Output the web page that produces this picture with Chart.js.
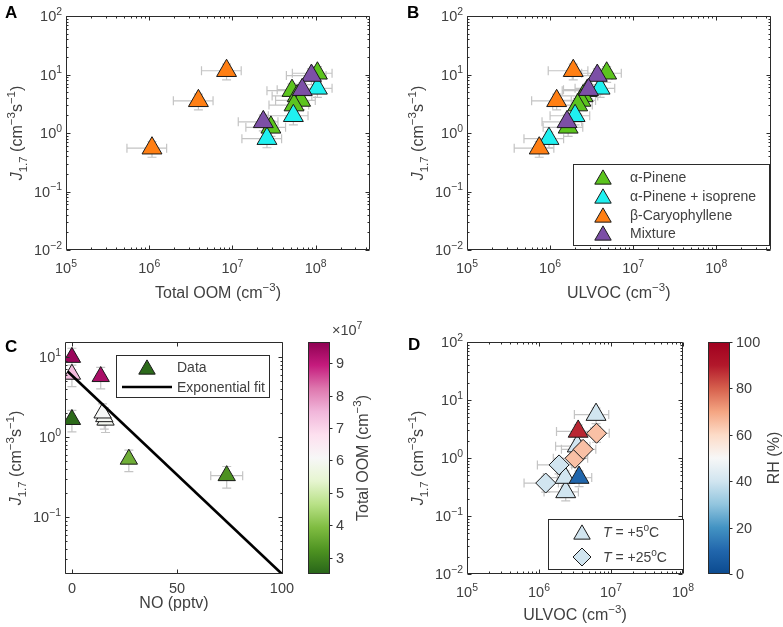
<!DOCTYPE html>
<html>
<head>
<meta charset="utf-8">
<title>J1.7 against total OOM, ULVOC and NO</title>
<script src="https://cdn.jsdelivr.net/npm/chart.js"></script>
<style>
  html, body { margin: 0; padding: 0; background: #fff; }
  #wrap { position: relative; width: 783px; height: 627px; background: #fff; overflow: hidden; }
  #wrap canvas { position: absolute; left: 0; top: 0; }
</style>
</head>
<body>
<div id="wrap">
  <canvas id="panelA" width="783" height="627"></canvas>
  <canvas id="panelB" width="783" height="627"></canvas>
  <canvas id="panelC" width="783" height="627"></canvas>
  <canvas id="barC" width="783" height="627"></canvas>
  <canvas id="panelD" width="783" height="627"></canvas>
  <canvas id="barD" width="783" height="627"></canvas>
</div>
<script>
"use strict";

const W = 783, H = 627;

// Panels A and B: J1.7 for each precursor system, vs total OOM (A) and ULVOC (B)
const pineneJ      = [10.5, 5.3, 4.3, 3.6, 3.0, 1.25];
const pineneOOM    = [1.05e8, 5.2e7, 6.0e7, 6.6e7, 5.5e7, 2.9e7];
const pineneULVOC  = [4.8e6, 2.8e6, 2.5e6, 2.35e6, 2.15e6, 1.65e6];
const isopreneJ     = [5.8, 1.97, 0.8];
const isopreneOOM   = [1.05e8, 5.4e7, 2.6e7];
const isopreneULVOC = [4.0e6, 2.0e6, 9.7e5];
const caryJ     = [11.6, 3.55, 0.55];
const caryOOM   = [8.5e6, 3.9e6, 1.08e6];
const caryULVOC = [1.9e6, 1.2e6, 7.4e5];
const mixJ     = [9.6, 5.5, 1.55];
const mixOOM   = [8.9e7, 6.9e7, 2.35e7];
const mixULVOC = [3.7e6, 2.9e6, 1.6e6];
const concErrFrac = 0.5;   // relative uncertainty of OOM / ULVOC
const jErrFrac = 0.3;      // relative uncertainty of J1.7

// Panel C: J1.7 vs NO, coloured by total OOM (x 1e7 cm-3)
const noPptv = [0, 0, 0, 13.7, 16.0, 15.4, 14.6, 27.1, 73.7];
const noJ    = [1.66, 6.1, 9.9, 5.7, 1.63, 1.8, 2.0, 0.53, 0.33];
const noOOM  = [2.6, 7.4, 9.5, 9.3, 5.95, 6.0, 6.05, 3.7, 3.2];
const noErr  = [0.5, 0.5, 0.5, 0.8, 1.5, 1.5, 1.5, 1.2, 7.6];
const fitNO = [-2, 100];
const fitJ  = [6.6, 0.0195];

// Panel D: J1.7 vs ULVOC at two temperatures, coloured by RH (%)
const coldULVOC = [2.35e6, 2.3e6, 3.6e6, 3.4e6, 3.5e6, 6.2e6];
const coldJ     = [0.26, 0.46, 0.46, 1.6, 2.87, 5.6];
const coldRH    = [40, 40, 10, 40, 88, 40];
const warmULVOC = [1.24e6, 1.9e6, 3.16e6, 4.1e6, 6.3e6];
const warmJ     = [0.37, 0.76, 0.99, 1.41, 2.67];
const warmRH    = [40, 40, 65, 65, 65];

// ticks
const concTicks = [1e5, 1e6, 1e7, 1e8];
const concTickExp = ['5', '6', '7', '8'];
const jTicks = [1e-2, 1e-1, 1, 10, 100];
const jTickExp = ['−2', '−1', '0', '1', '2'];
const jTicksC = [0.1, 1, 10];
const jTickExpC = ['−1', '0', '1'];
const noTicks = [0, 50, 100];
const oomTicks = [3, 4, 5, 6, 7, 8, 9];
const rhTicks = [0, 20, 40, 60, 80, 100];

// styles
const FONT = '"Liberation Sans", Arial, Helvetica, sans-serif';
const AXIS = '#2b2b2b';
const TEXT = '#404040';
const EDGE = '#1a1a1a';
const ERR = '#c4c4c4';
const TICK_SIZE = 14.5;
const TITLE_SIZE = 16;
const colPinene = '#5cc41e';
const colIsoprene = '#1ff0f0';
const colCary = '#ff7f14';
const colMix = '#7c4fa6';
const piyg = ['#276419', '#4d9221', '#7fbc41', '#b8e186', '#e6f5d0', '#f7f7f7',
              '#fde0ef', '#f1b6da', '#de77ae', '#c51b7d', '#8e0152'];
const rdbu = ['#0b4a8f', '#2166ac', '#4393c3', '#92c5de', '#d1e5f0', '#f7f7f7',
              '#fddbc7', '#f4a582', '#d6604d', '#b2182b', '#a0001f'];
const oomMin = 2.5, oomMax = 9.65;
const rhMin = 0, rhMax = 100;

function hexToRgb(h) {
  const n = parseInt(h.slice(1), 16);
  return [n >> 16, (n >> 8) & 255, n & 255];
}

function colorAt(stops, t) {
  t = Math.min(1, Math.max(0, t));
  const f = t * (stops.length - 1);
  const i = Math.min(stops.length - 2, Math.floor(f));
  const u = f - i;
  const a = hexToRgb(stops[i]), b = hexToRgb(stops[i + 1]);
  return 'rgb(' + a.map((c, k) => Math.round(c + (b[k] - c) * u)).join(',') + ')';
}

const oomColor = v => colorAt(piyg, (v - oomMin) / (oomMax - oomMin));
const rhColor = v => colorAt(rdbu, (v - rhMin) / (rhMax - rhMin));

// text with italic / superscript / subscript pieces
function drawRich(ctx, parts, x, y, size, align, angle, weight) {
  ctx.save();
  ctx.translate(x, y);
  if (angle) ctx.rotate(angle);
  const segs = parts.map(([t, s]) => {
    const small = s === 'sup' || s === 'sub';
    const font = [s === 'i' ? 'italic' : '', weight || '', (small ? size * 0.72 : size) + 'px', FONT]
      .filter(Boolean).join(' ');
    ctx.font = font;
    return { t, s, font, w: ctx.measureText(t).width };
  });
  const total = segs.reduce((sum, g) => sum + g.w, 0);
  let cx = align === 'center' ? -total / 2 : align === 'right' ? -total : 0;
  ctx.textAlign = 'left';
  ctx.textBaseline = 'alphabetic';
  segs.forEach(g => {
    ctx.font = g.font;
    const dy = g.s === 'sup' ? -size * 0.42 : g.s === 'sub' ? size * 0.3 : 0;
    ctx.fillText(g.t, cx, dy);
    cx += g.w;
  });
  ctx.restore();
}

const pow10 = e => [['10', ''], [e, 'sup']];
const plain = v => [[String(v), '']];

const jTitle = [['J', 'i'], ['1.7', 'sub'], [' (cm', ''], ['−3', 'sup'], ['s', ''], ['−1', 'sup'], [')', '']];
const oomTitle = [['Total OOM (cm', ''], ['−3', 'sup'], [')', '']];
const ulvocTitle = [['ULVOC (cm', ''], ['−3', 'sup'], [')', '']];

function drawMarker(ctx, style, x, y, r, fill) {
  ctx.beginPath();
  if (style === 'triangle') {
    ctx.moveTo(x, y - r);
    ctx.lineTo(x + r * 0.866, y + r * 0.5);
    ctx.lineTo(x - r * 0.866, y + r * 0.5);
  } else {
    ctx.moveTo(x, y - r);
    ctx.lineTo(x + r, y);
    ctx.lineTo(x, y + r);
    ctx.lineTo(x - r, y);
  }
  ctx.closePath();
  ctx.fillStyle = fill;
  ctx.fill();
  ctx.strokeStyle = EDGE;
  ctx.lineWidth = 1;
  ctx.stroke();
}

function logMinor(scale) {
  const out = [];
  const d0 = Math.floor(Math.log10(scale.min)), d1 = Math.ceil(Math.log10(scale.max));
  for (let d = d0; d <= d1; d++) {
    for (let m = 2; m <= 9; m++) {
      const v = m * Math.pow(10, d);
      if (v > scale.min && v < scale.max) out.push(v);
    }
  }
  return out;
}

function drawErrorBars(chart) {
  const { ctx } = chart;
  const xs = chart.scales.x, ys = chart.scales.y;
  const cap = 4.5;
  ctx.save();
  ctx.strokeStyle = ERR;
  ctx.lineWidth = 1.2;
  chart.data.datasets.forEach(ds => {
    if (!ds.xe && !ds.ye) return;
    ds.data.forEach((p, i) => {
      const px = xs.getPixelForValue(p.x), py = ys.getPixelForValue(p.y);
      ctx.beginPath();
      if (ds.xe) {
        const x1 = xs.getPixelForValue(p.x - ds.xe[i]), x2 = xs.getPixelForValue(p.x + ds.xe[i]);
        ctx.moveTo(x1, py); ctx.lineTo(x2, py);
        ctx.moveTo(x1, py - cap); ctx.lineTo(x1, py + cap);
        ctx.moveTo(x2, py - cap); ctx.lineTo(x2, py + cap);
      }
      if (ds.ye) {
        const y1 = ys.getPixelForValue(p.y - ds.ye[i]), y2 = ys.getPixelForValue(p.y + ds.ye[i]);
        ctx.moveTo(px, y1); ctx.lineTo(px, y2);
        ctx.moveTo(px - cap, y1); ctx.lineTo(px + cap, y1);
        ctx.moveTo(px - cap, y2); ctx.lineTo(px + cap, y2);
      }
      ctx.stroke();
    });
  });
  ctx.restore();
}

function drawLegend(ctx, lg) {
  const [l, t, r, b] = lg.box;
  ctx.save();
  ctx.fillStyle = '#fff';
  ctx.fillRect(l, t, r - l, b - t);
  ctx.strokeStyle = AXIS;
  ctx.lineWidth = 1;
  ctx.strokeRect(l + 0.5, t + 0.5, r - l, b - t);
  lg.rows.forEach(row => {
    if (row.line) {
      ctx.strokeStyle = '#000';
      ctx.lineWidth = 2.6;
      ctx.beginPath();
      ctx.moveTo(row.line[0], row.y);
      ctx.lineTo(row.line[1], row.y);
      ctx.stroke();
    } else {
      const cy = row.style === 'triangle' ? row.y + row.r / 4 : row.y;
      drawMarker(ctx, row.style, row.mx, cy, row.r, row.color);
    }
    ctx.fillStyle = TEXT;
    drawRich(ctx, row.text, lg.textX, row.y + 5, 14, 'left');
  });
  ctx.restore();
}

function drawFrame(chart, f) {
  const { ctx, chartArea: a } = chart;
  const xs = chart.scales.x, ys = chart.scales.y;
  const L = Math.round(a.left) + 0.5, R = Math.round(a.right) - 0.5;
  const T = Math.round(a.top) + 0.5, B = Math.round(a.bottom) - 0.5;
  ctx.save();
  ctx.strokeStyle = AXIS;
  ctx.lineWidth = 1;
  ctx.beginPath();
  const vtick = (v, len) => {
    const p = Math.round(xs.getPixelForValue(v)) + 0.5;
    ctx.moveTo(p, B); ctx.lineTo(p, B - len);
    ctx.moveTo(p, T); ctx.lineTo(p, T + len);
  };
  const htick = (v, len) => {
    const p = Math.round(ys.getPixelForValue(v)) + 0.5;
    ctx.moveTo(L, p); ctx.lineTo(L + len, p);
    ctx.moveTo(R, p); ctx.lineTo(R - len, p);
  };
  f.xTicks.forEach(v => vtick(v, 4));
  f.yTicks.forEach(v => htick(v, 4));
  if (xs.type === 'logarithmic') logMinor(xs).forEach(v => vtick(v, 2));
  if (ys.type === 'logarithmic') logMinor(ys).forEach(v => htick(v, 2));
  ctx.rect(L, T, R - L, B - T);
  ctx.stroke();

  ctx.fillStyle = TEXT;
  f.xTicks.forEach((v, i) => drawRich(ctx, f.xLabels[i], xs.getPixelForValue(v), a.bottom + f.xLabelDy, TICK_SIZE, 'center'));
  f.yTicks.forEach((v, i) => drawRich(ctx, f.yLabels[i], a.left - 4, ys.getPixelForValue(v) + 5, TICK_SIZE, 'right'));
  drawRich(ctx, f.xTitle, (a.left + a.right) / 2, a.bottom + f.xTitleDy, TITLE_SIZE, 'center');
  drawRich(ctx, f.yTitle, a.left - 44, (a.top + a.bottom) / 2, TITLE_SIZE, 'center', -Math.PI / 2);
  ctx.fillStyle = '#000';
  drawRich(ctx, [[f.letter, '']], f.letterAt[0], f.letterAt[1], 17, 'left', 0, 'bold');
  if (f.legend) drawLegend(ctx, f.legend);
  ctx.restore();
}

function drawColorbarFrame(chart, f) {
  const { ctx, chartArea: a } = chart;
  const ys = chart.scales.y;
  const L = Math.round(a.left) + 0.5, R = Math.round(a.right) - 0.5;
  const T = Math.round(a.top) + 0.5, B = Math.round(a.bottom) - 0.5;
  ctx.save();
  ctx.strokeStyle = AXIS;
  ctx.lineWidth = 1;
  ctx.beginPath();
  f.ticks.forEach(v => {
    const p = Math.round(ys.getPixelForValue(v)) + 0.5;
    ctx.moveTo(R, p); ctx.lineTo(R + 3, p);
  });
  ctx.rect(L, T, R - L, B - T);
  ctx.stroke();
  ctx.fillStyle = TEXT;
  f.ticks.forEach(v => drawRich(ctx, plain(v), a.right + 6, ys.getPixelForValue(v) + 5, TICK_SIZE, 'left'));
  drawRich(ctx, f.title, f.titleX, (a.top + a.bottom) / 2, TITLE_SIZE, 'center', -Math.PI / 2);
  if (f.multiplier) drawRich(ctx, f.multiplier, f.multAt[0], f.multAt[1], TICK_SIZE, 'left');
  ctx.restore();
}

const frames = {};

const framePlugin = {
  id: 'frame',
  beforeDatasetsDraw(chart) { drawErrorBars(chart); },
  afterDatasetsDraw(chart) {
    const f = frames[chart.canvas.id];
    if (f) drawFrame(chart, f);
  }
};

const colorbarPlugin = {
  id: 'colorbarFrame',
  afterDatasetsDraw(chart) {
    const f = frames[chart.canvas.id];
    if (f) drawColorbarFrame(chart, f);
  }
};

function pad(l, t, r, b) {
  return { left: l, top: t, right: W - r, bottom: H - b };
}

function pts(xs, ys) {
  return xs.map((x, i) => ({ x, y: ys[i] }));
}

function markers(label, xs, ys, color, style, r, order, xe, ye) {
  return {
    label, order, xe, ye,
    data: pts(xs, ys),
    pointStyle: style,
    pointRadius: r,
    pointHoverRadius: r,
    pointBackgroundColor: color,
    pointBorderColor: EDGE,
    pointBorderWidth: 1
  };
}

function scatterChart(id, padding, xScale, yScale, datasets) {
  return new Chart(document.getElementById(id), {
    type: 'scatter',
    data: { datasets },
    options: {
      responsive: false,
      animation: false,
      events: [],
      layout: { padding },
      scales: {
        x: Object.assign({ display: false }, xScale),
        y: Object.assign({ display: false }, yScale)
      },
      plugins: { legend: { display: false }, tooltip: { enabled: false } }
    },
    plugins: [framePlugin]
  });
}

function colorbarChart(id, padding, min, max, stops) {
  return new Chart(document.getElementById(id), {
    type: 'bar',
    data: {
      labels: [''],
      datasets: [{
        data: [[min, max]],
        borderWidth: 0,
        barPercentage: 1,
        categoryPercentage: 1,
        backgroundColor: c => {
          const area = c.chart.chartArea;
          if (!area) return stops[0];
          const g = c.chart.ctx.createLinearGradient(0, area.bottom, 0, area.top);
          stops.forEach((col, i) => g.addColorStop(i / (stops.length - 1), col));
          return g;
        }
      }]
    },
    options: {
      responsive: false,
      animation: false,
      events: [],
      layout: { padding },
      scales: { x: { display: false }, y: { display: false, min, max } },
      plugins: { legend: { display: false }, tooltip: { enabled: false } }
    },
    plugins: [colorbarPlugin]
  });
}

const concErr = arr => arr.map(v => v * concErrFrac);
const jErr = arr => arr.map(v => v * jErrFrac);
const logConc = { type: 'logarithmic', min: 1e5, max: 4.5e8 };
const logJ = { type: 'logarithmic', min: 1e-2, max: 1e2 };

const legendAB = {
  box: [573, 164, 769, 245], textX: 630,
  rows: [
    { y: 177, style: 'triangle', mx: 603, r: 9.5, color: colPinene, text: [['α-Pinene', '']] },
    { y: 196, style: 'triangle', mx: 603, r: 9.5, color: colIsoprene, text: [['α-Pinene + isoprene', '']] },
    { y: 215, style: 'triangle', mx: 603, r: 9.5, color: colCary, text: [['β-Caryophyllene', '']] },
    { y: 233, style: 'triangle', mx: 603, r: 9.5, color: colMix, text: [['Mixture', '']] }
  ]
};

// Panel A
frames.panelA = {
  letter: 'A', letterAt: [5, 18],
  xTicks: concTicks, xLabels: concTickExp.map(pow10), xLabelDy: 23,
  yTicks: jTicks, yLabels: jTickExp.map(pow10),
  xTitle: oomTitle, xTitleDy: 48, yTitle: jTitle
};
scatterChart('panelA', pad(66, 16, 370, 250), logConc, logJ, [
  markers('Mixture', mixOOM, mixJ, colMix, 'triangle', 11.5, 0, concErr(mixOOM), jErr(mixJ)),
  markers('β-Caryophyllene', caryOOM, caryJ, colCary, 'triangle', 11.5, 1, concErr(caryOOM), jErr(caryJ)),
  markers('α-Pinene + isoprene', isopreneOOM, isopreneJ, colIsoprene, 'triangle', 11.5, 2, concErr(isopreneOOM), jErr(isopreneJ)),
  markers('α-Pinene', pineneOOM, pineneJ, colPinene, 'triangle', 11.5, 3, concErr(pineneOOM), jErr(pineneJ))
]);

// Panel B
frames.panelB = {
  letter: 'B', letterAt: [407, 18],
  xTicks: concTicks, xLabels: concTickExp.map(pow10), xLabelDy: 23,
  yTicks: jTicks, yLabels: jTickExp.map(pow10),
  xTitle: ulvocTitle, xTitleDy: 48, yTitle: jTitle,
  legend: legendAB
};
scatterChart('panelB', pad(467, 16, 771, 250), logConc, logJ, [
  markers('Mixture', mixULVOC, mixJ, colMix, 'triangle', 11.5, 0, concErr(mixULVOC), jErr(mixJ)),
  markers('β-Caryophyllene', caryULVOC, caryJ, colCary, 'triangle', 11.5, 1, concErr(caryULVOC), jErr(caryJ)),
  markers('α-Pinene + isoprene', isopreneULVOC, isopreneJ, colIsoprene, 'triangle', 11.5, 2, concErr(isopreneULVOC), jErr(isopreneJ)),
  markers('α-Pinene', pineneULVOC, pineneJ, colPinene, 'triangle', 11.5, 3, concErr(pineneULVOC), jErr(pineneJ))
]);

// Panel C
frames.panelC = {
  letter: 'C', letterAt: [5, 352],
  xTicks: noTicks, xLabels: noTicks.map(plain), xLabelDy: 19,
  yTicks: jTicksC, yLabels: jTickExpC.map(pow10),
  xTitle: [['NO (pptv)', '']], xTitleDy: 34, yTitle: jTitle,
  legend: {
    box: [116, 355, 269, 397], textX: 177,
    rows: [
      { y: 367, style: 'triangle', mx: 147, r: 9.5, color: oomColor(noOOM[0]), text: [['Data', '']] },
      { y: 387, line: [122, 172], text: [['Exponential fit', '']] }
    ]
  }
};
scatterChart('panelC', pad(65, 342, 283, 574),
  { type: 'linear', min: -3.3, max: 100.5 },
  { type: 'logarithmic', min: 0.0195, max: 15.4 },
  [
    {
      label: 'Exponential fit', order: 0, data: pts(fitNO, fitJ),
      showLine: true, pointRadius: 0, borderColor: '#000', borderWidth: 2.6, fill: false
    },
    markers('Data', noPptv, noJ, noOOM.map(oomColor), 'triangle', 10, 1, noErr, jErr(noJ))
  ]);

frames.barC = {
  ticks: oomTicks,
  title: [['Total OOM (cm', ''], ['−3', 'sup'], [')', '']], titleX: 368,
  multiplier: [['×10', ''], ['7', 'sup']], multAt: [332, 335]
};
colorbarChart('barC', pad(308, 342, 330, 574), oomMin, oomMax, piyg);

// Panel D
frames.panelD = {
  letter: 'D', letterAt: [408, 350],
  xTicks: concTicks, xLabels: concTickExp.map(pow10), xLabelDy: 23,
  yTicks: jTicks, yLabels: jTickExp.map(pow10),
  xTitle: ulvocTitle, xTitleDy: 46, yTitle: jTitle,
  legend: {
    box: [548, 519, 683, 569], textX: 603,
    rows: [
      { y: 532, style: 'triangle', mx: 582, r: 9.5, color: rhColor(40), text: [['T', 'i'], [' = +5', ''], ['o', 'sup'], ['C', '']] },
      { y: 557, style: 'diamond', mx: 582, r: 9, color: rhColor(40), text: [['T', 'i'], [' = +25', ''], ['o', 'sup'], ['C', '']] }
    ]
  }
};
scatterChart('panelD', pad(467, 342, 683, 574),
  { type: 'logarithmic', min: 1e5, max: 1e8 }, logJ,
  [
    markers('T = +25°C', warmULVOC, warmJ, warmRH.map(rhColor), 'rectRot', 10, 0, concErr(warmULVOC), jErr(warmJ)),
    markers('T = +5°C', coldULVOC, coldJ, coldRH.map(rhColor), 'triangle', 11.5, 1, concErr(coldULVOC), jErr(coldJ))
  ]);

frames.barD = {
  ticks: rhTicks,
  title: [['RH (%)', '']], titleX: 779
};
colorbarChart('barD', pad(708, 342, 730, 574), rhMin, rhMax, rdbu);
</script>
</body>
</html>
